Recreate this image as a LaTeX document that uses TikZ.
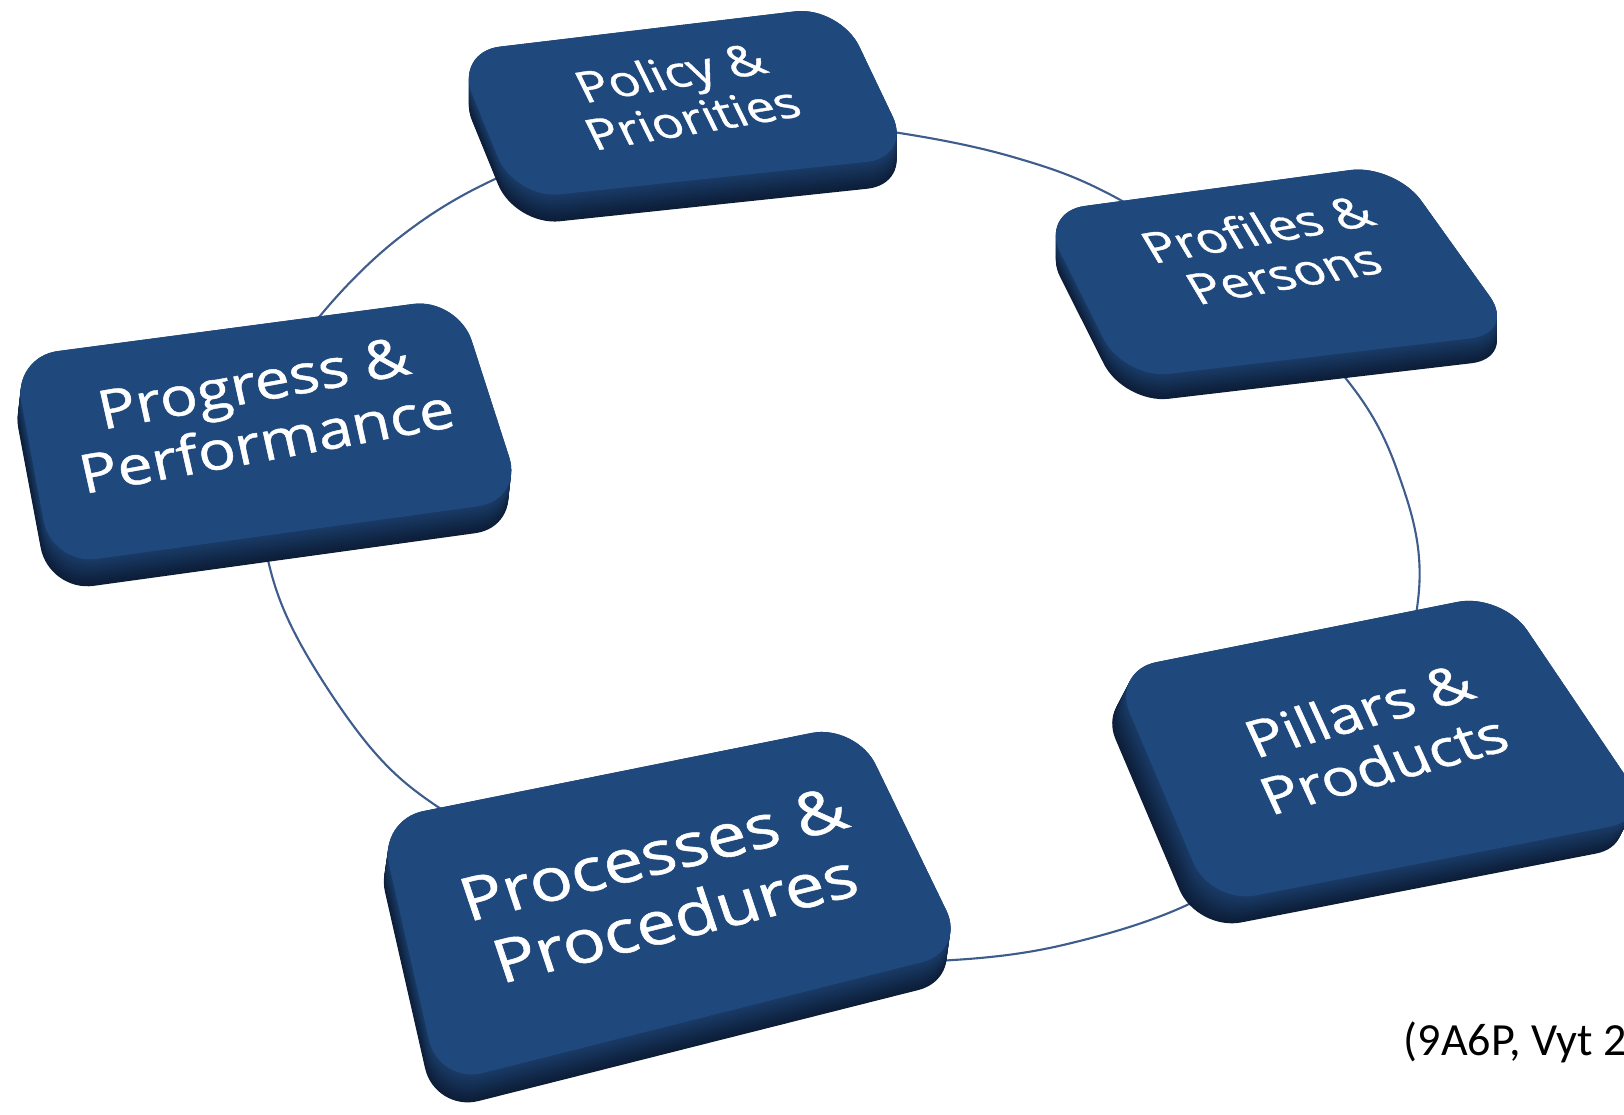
\documentclass[tikz,border=0pt]{standalone}
\usepackage{fontspec}
\setmainfont{Open Sans}
\newfontfamily\tilefont[FakeBold=0.8]{Open Sans}
\newfontfamily\notefont{Carlito}
\usetikzlibrary{calc}

\definecolor{tileface}{RGB}{31,73,125}
\definecolor{tileside}{RGB}{26,60,104}
\definecolor{tilesidedark}{RGB}{12,29,55}
\definecolor{ringline}{RGB}{62,92,140}

% A raised tile: four corners of the top face (clockwise from top-left),
% then the horizontal and vertical extent of the slab, in pixel units.
\newcommand\drawtile[6]{%
  \foreach \k in {0,...,18}{%
    \pgfmathsetmacro\fr{1-\k/18}%
    \pgfmathtruncatemacro\mx{100*\k/18}%
    \fill[tileside!\mx!tilesidedark, shift={(#5*\fr,#6*\fr)}, rounded corners=0.45cm]
      ($(#1)!0.5!(#2)$) -- (#2) -- (#3) -- (#4) -- (#1) -- cycle;
  }%
  \fill[tileface, rounded corners=0.45cm]
    ($(#1)!0.5!(#2)$) -- (#2) -- (#3) -- (#4) -- (#1) -- cycle;
}

\tikzset{
  tiletext/.style={text=white, align=center, inner sep=0pt},
  ring/.style={draw=ringline, line width=0.6pt},
}

\begin{document}
\begin{tikzpicture}[x=0.01cm, y=-0.01cm]
\useasboundingbox (0,0) rectangle (1624,1114);

% the ring behind the tiles
\draw[ring] plot[smooth cycle, tension=0.6] coordinates {
  (757,118) (893,132) (1013,157) (1113,196) (1239,277) (1343,375)
  (1397,470) (1419,590) (1375,755) (1300,835) (1187,905) (1063,945)
  (953,960) (855,958) (656,914) (530,855) (438,807) (370,747)
  (300,643) (268,560) (262,476) (278,381) (325,310) (400,237)
  (493,180) (628,130)};

% tiles
\drawtile{455,52}{840,6}{912,157}{515,199}{0}{27}
\drawtile{1040,212}{1395,164}{1516,333}{1124,379}{0}{25}
\drawtile{13,357}{458,298}{523,500}{52,565}{-3}{27}
\drawtile{379,820}{856,724}{966,951}{439,1084}{-4}{28}
\drawtile{1112,671}{1502,593}{1654,818}{1211,904}{-14}{27}

% labels
\node[tiletext, font=\tilefont\fontsize{14.5}{16}\selectfont, rotate=9.5, xslant=-0.3, yscale=0.86]
  (policy) at (681,95) {Policy \&\\Priorities};
\node[tiletext, font=\tilefont\fontsize{14.5}{16}\selectfont, rotate=10, xslant=-0.38, yscale=0.86]
  (profiles) at (1270,251) {Profiles \&\\Persons};
\node[tiletext, font=\tilefont\fontsize{17.8}{19.8}\selectfont, rotate=10.3, xslant=-0.04, yscale=0.86]
  (progress) at (260,412) {Progress \&\\Performance};
\node[tiletext, font=\tilefont\fontsize{20}{22.5}\selectfont, rotate=14, xslant=-0.08, yscale=0.86]
  (processes) at (664,886) {Processes \&\\Procedures};
\node[tiletext, font=\tilefont\fontsize{17.3}{19.5}\selectfont, rotate=15.5, xslant=-0.16, yscale=0.86]
  (pillars) at (1371,737) {Pillars \&\\Products};

% source note
\node[anchor=base west, inner sep=0pt, font=\notefont\fontsize{13.1}{15}\selectfont]
  (source) at (1403,1055) {(9A6P, Vyt 2};
\end{tikzpicture}
\end{document}
